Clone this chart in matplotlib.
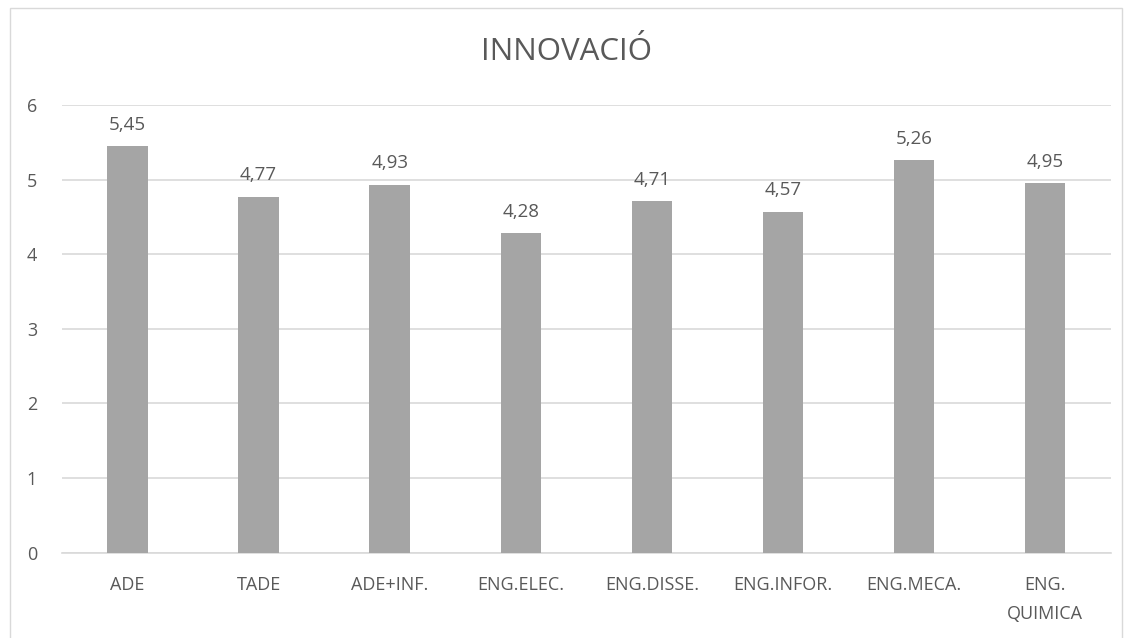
import matplotlib.pyplot as plt
from matplotlib.patches import Rectangle

categories = ["ADE", "TADE", "ADE+INF.", "ENG.ELEC.", "ENG.DISSE.", "ENG.INFOR.", "ENG.MECA.", "ENG.\nQUIMICA"]
values = [5.45, 4.77, 4.93, 4.28, 4.71, 4.57, 5.26, 4.95]
yticks = [0, 1, 2, 3, 4, 5, 6]

plt.rcParams['font.family'] = ['Open Sans', 'DejaVu Sans']
txt = "#595959"

fig = plt.figure(figsize=(11.32, 6.38), dpi=100)
ax = fig.add_axes([0.0548, 0.1337, 0.9264, 0.7017])

x = list(range(len(categories)))
bars = ax.bar(x, values, width=0.31, color="#a5a5a5", zorder=3)
for xi, v in zip(x, values):
    ax.annotate(f"{v:.2f}".replace(".", ","), (xi, v), xytext=(0, 9), textcoords="offset points",
                ha="center", va="bottom", fontsize=13.5, color=txt)

ax.set_xlim(-0.5, len(categories) - 0.5)
ax.set_ylim(0, 6)
ax.set_yticks(yticks)
ax.set_xticks(x)
ax.set_xticklabels(categories, fontsize=13, color=txt, linespacing=1.75)
ax.set_yticklabels([str(t) for t in yticks], fontsize=13, color=txt)
ax.tick_params(axis="both", length=0)
ax.tick_params(axis="y", pad=18)
ax.tick_params(axis="x", pad=17)
ax.yaxis.grid(True, color="#d9d9d9", linewidth=1.2, zorder=0)
for s in ["top", "right", "left"]:
    ax.spines[s].set_visible(False)
ax.spines["bottom"].set_color("#d9d9d9")
ax.spines["bottom"].set_linewidth(1.2)

fig.text(0.5, 0.918, "INNOVACIÓ", ha="center", va="center", fontsize=22.5, color=txt)

fig.patches.append(Rectangle((10 / 1132, -0.05), 1112 / 1132, 1 - 8 / 638 + 0.05,
                             transform=fig.transFigure, fill=False, edgecolor="#d9d9d9", linewidth=1))

fig.savefig("out.png", dpi=100)
